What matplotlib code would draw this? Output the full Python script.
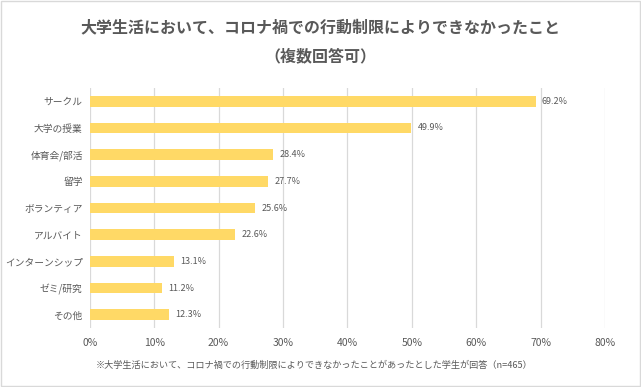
import matplotlib
matplotlib.use("Agg")
import matplotlib.pyplot as plt
from matplotlib.patches import Rectangle

plt.rcParams["font.family"] = ["Noto Sans CJK JP", "DejaVu Sans"]

categories = ["サークル", "大学の授業", "体育会/部活", "留学", "ボランティア",
              "アルバイト", "インターンシップ", "ゼミ/研究", "その他"]
values = [69.2, 49.9, 28.4, 27.7, 25.6, 22.6, 13.1, 11.2, 12.3]
xticks = [0, 10, 20, 30, 40, 50, 60, 70, 80]

title = "大学生活において、コロナ禍での行動制限によりできなかったこと\n（複数回答可）"
note = "※大学生活において、コロナ禍での行動制限によりできなかったことがあったとした学生が回答（n=465）"

bar_color = "#FFD966"
text_color = "#595959"

fig = plt.figure(figsize=(6.41, 3.87), dpi=100)
ax = fig.add_axes([0.140, 0.152, 0.804, 0.621])

y = list(range(len(categories)))
ax.barh(y, values, height=0.4, color=bar_color, zorder=2)
for yi, v in zip(y, values):
    ax.text(v + 1.0, yi, f"{v:.1f}%", va="center", ha="left",
            fontsize=6.5, color=text_color)

ax.set_xlim(0, 80)
ax.set_ylim(len(categories) - 0.5, -0.5)
ax.set_yticks(y)
ax.set_yticklabels(categories, fontsize=7, color=text_color)
ax.set_xticks(xticks)
ax.set_xticklabels([f"{t}%" for t in xticks], fontsize=7.5, color=text_color)
ax.tick_params(length=0, axis="both")
ax.tick_params(axis="y", pad=5)
ax.tick_params(axis="x", pad=7)
ax.grid(axis="x", color="#D9D9D9", linewidth=0.9, zorder=0)
for s in ax.spines.values():
    s.set_visible(False)

fig.text(0.5, 0.95, title, ha="center", va="top", fontsize=11.5,
         fontweight="bold", color=text_color, linespacing=2.0)
fig.text(0.49, 0.057, note, ha="center", va="center", fontsize=6.6,
         color=text_color)

fig.patches.append(Rectangle((0.001, 0.002), 0.997, 0.996, transform=fig.transFigure,
                             fill=False, edgecolor="#D9D9D9", linewidth=1))

fig.savefig("out.png", dpi=100)
